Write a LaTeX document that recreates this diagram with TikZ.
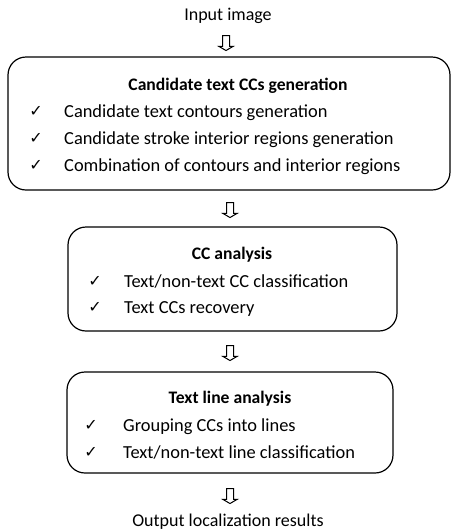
\documentclass[tikz,border=0pt]{standalone}
\usepackage{fontspec}
\setmainfont{Carlito}
\newfontfamily\symfont{DejaVu Sans}
\usetikzlibrary{shapes.arrows}
\begin{document}
\begin{tikzpicture}[x=1pt,y=-1pt,
  box/.style={draw, line width=1.2pt, rounded corners=18pt, inner sep=0pt},
  title/.style={font=\fontsize{17.6}{19}\selectfont\bfseries, anchor=base, inner sep=0pt},
  item/.style={font=\fontsize{18.4}{20}\selectfont, anchor=base west, inner sep=0pt},
  tick/.style={font=\symfont\fontsize{16}{17}\selectfont, anchor=base, inner sep=0pt},
  plain/.style={font=\fontsize{18}{20}\selectfont, anchor=base, inner sep=0pt},
  harrow/.style={single arrow, draw, line width=1pt, shape border rotate=270,
     minimum height=15pt, single arrow head extend=3.8pt,
     single arrow tip angle=120, inner sep=3pt}
]
\useasboundingbox (0,0) rectangle (453,531);

\node[plain] (in) at (228,20) {Input image};
\node[harrow] (a1) at (226,42) {};

\node[box, minimum width=442pt, minimum height=133pt] (b1) at (229,123.5) {};
\node[title] (t1) at (238,90) {Candidate text CCs generation};
\node[tick] (c11) at (36,116) {✓};
\node[item] (i11) at (64,117) {Candidate text contours generation};
\node[tick] (c12) at (36,143) {✓};
\node[item] (i12) at (64,144) {Candidate stroke interior regions generation};
\node[tick] (c13) at (36,170) {✓};
\node[item] (i13) at (64,171) {Combination of contours and interior regions};

\node[harrow] (a2) at (230,209) {};

\node[box, minimum width=329pt, minimum height=104pt] (b2) at (232.5,279) {};
\node[title] (t2) at (232,259) {CC analysis};
\node[tick] (c21) at (95,286) {✓};
\node[item] (i21) at (124,287) {Text/non-text CC classification};
\node[tick] (c22) at (95,312) {✓};
\node[item] (i22) at (124,313) {Text CCs recovery};

\node[harrow] (a3) at (230,352) {};

\node[box, minimum width=326pt, minimum height=101pt] (b3) at (230,422.5) {};
\node[title] (t3) at (230,403) {Text line analysis};
\node[tick] (c31) at (91,430) {✓};
\node[item] (i31) at (123,431) {Grouping CCs into lines};
\node[tick] (c32) at (91,457) {✓};
\node[item] (i32) at (123,458) {Text/non-text line classification};

\node[harrow] (a4) at (230,495) {};
\node[plain] (out) at (228,526) {Output localization results};
\end{tikzpicture}
\end{document}
